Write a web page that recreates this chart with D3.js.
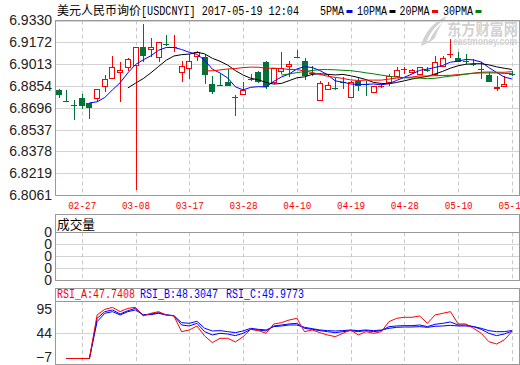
<!DOCTYPE html>
<html>
<head>
<meta charset="utf-8">
<script src="https://cdn.jsdelivr.net/npm/d3@7"></script>
<style>
  body { margin: 0; background: #fff; }
  svg { display: block; }
</style>
</head>
<body>
<div id="chart"></div>
<script>
// trading days shown (MM-DD, 2017)
const dates = ["02-22","02-23","02-24","02-27","02-28","03-01","03-02","03-03","03-06","03-07",
  "03-08","03-09","03-10","03-13","03-14","03-15","03-16","03-17","03-20","03-21",
  "03-22","03-23","03-24","03-27","03-28","03-29","03-30","03-31","04-05","04-06",
  "04-07","04-10","04-11","04-12","04-13","04-14","04-17","04-18","04-19","04-20",
  "04-21","04-24","04-25","04-26","04-27","04-28","05-02","05-03","05-04","05-05",
  "05-08","05-09","05-10","05-11","05-12","05-15","05-16","05-17","05-18","05-19"];

const open = [6.8824,6.8748,6.8716,6.8763,6.8729,6.8770,6.8855,6.8912,6.8953,6.8989,
  6.9007,6.9136,6.9124,6.9063,6.9160,6.9131,6.8958,6.8987,6.9070,6.9063,
  6.8868,6.8865,6.8885,6.8780,6.8792,6.8899,6.8958,6.9031,6.8880,6.8965,
  6.8997,6.9070,6.9038,6.8955,6.8751,6.8831,6.8846,6.8887,6.8777,6.8892,
  6.8870,6.8807,6.8848,6.8880,6.8929,6.8975,6.8953,6.8941,6.8975,6.8941,
  6.9002,6.9082,6.9055,6.9041,6.9016,6.8985,6.8933,6.8836,6.8855,6.8946];
const high = [6.8831,6.8824,6.8751,6.8792,6.8729,6.8831,6.8933,6.9075,6.9031,6.9055,
  6.9136,6.9306,6.9204,6.9177,6.9221,6.9226,6.9038,6.9087,6.9107,6.9087,
  6.8924,6.8941,6.8977,6.8787,6.8880,6.8941,6.8965,6.9038,6.8982,6.9104,
  6.9038,6.9116,6.9055,6.9002,6.8892,6.8880,6.8909,6.8916,6.8892,6.8916,
  6.8892,6.8855,6.8868,6.8941,6.8989,6.8989,6.8977,6.8989,6.8989,6.9070,
  6.9075,6.9197,6.9099,6.9087,6.9050,6.9031,6.8953,6.8924,6.8929,6.8965];
const low = [6.8770,6.8741,6.8607,6.8685,6.8612,6.8738,6.8807,6.8904,6.8738,6.8965,
  6.8100,6.9031,6.9063,6.9031,6.9148,6.9099,6.8885,6.8904,6.9038,6.8868,
  6.8794,6.8855,6.8855,6.8636,6.8792,6.8887,6.8875,6.8831,6.8868,6.8941,
  6.8916,6.9055,6.8897,6.8929,6.8751,6.8831,6.8826,6.8831,6.8777,6.8819,
  6.8782,6.8807,6.8838,6.8855,6.8916,6.8941,6.8941,6.8933,6.8953,6.8929,
  6.9002,6.9055,6.9026,6.9014,6.9002,6.8904,6.8885,6.8819,6.8855,6.8929];
const close = [6.8790,6.8746,6.8712,6.8709,6.8695,6.8831,6.8904,6.8989,6.8970,6.9050,
  6.9136,6.9075,6.9136,6.9172,6.9150,6.9136,6.9002,6.9033,6.9099,6.8936,
  6.8812,6.8860,6.8855,6.8775,6.8826,6.8904,6.8885,6.8843,6.8982,6.8982,
  6.9014,6.9065,6.8929,6.8950,6.8875,6.8860,6.8841,6.8882,6.8885,6.8855,
  6.8865,6.8855,6.8853,6.8929,6.8970,6.8980,6.8970,6.8989,6.8972,6.9031,
  6.9055,6.9087,6.9026,6.9036,6.9011,6.8980,6.8885,6.8850,6.8868,6.8941];

// no traded volume for a quoted rate
const volume = dates.map(() => 0);
const volTickLabels = ["0","0","0","0","0"];

const rsiA = [null,-10,-10,-10,-10,83.3,95.4,99.5,90.4,97.5,
  99.5,81.1,86.8,90.4,83.3,81.1,47.5,51.1,59.7,38.3,
  24.0,33.3,33.3,25.4,36.8,52.5,49.7,44.0,64.0,66.8,
  72.5,76.1,47.5,51.1,45.4,40.4,36.8,44.0,51.1,40.4,
  47.5,44.0,47.5,69.0,76.1,78.3,78.3,81.1,65.4,83.3,
  86.8,90.4,64.0,64.0,54.7,44.0,26.1,21.1,29.7,47.7];
const rsiB = [null,-10,-10,-10,-10,76.1,90.4,94.0,85.4,92.5,
  97.5,83.3,85.4,88.3,83.3,81.8,61.8,59.7,65.4,47.5,
  40.4,44.0,42.5,39.0,44.0,52.5,51.1,49.0,59.7,61.8,
  64.0,65.4,54.7,52.5,49.7,47.5,45.4,47.5,49.7,47.5,
  49.7,47.5,49.7,58.3,59.7,60.4,60.4,61.8,58.3,63.3,
  65.4,68.3,61.8,61.8,58.3,52.5,44.0,39.0,42.5,48.3];
const rsiC = [null,-10,-10,-10,-10,69.0,86.8,90.4,83.3,90.4,
  94.0,83.3,84.0,86.8,83.3,81.8,66.8,65.4,69.7,54.7,
  49.0,49.7,47.5,45.4,49.0,54.7,52.5,51.1,58.3,59.7,
  61.8,61.8,56.8,54.0,51.1,49.7,49.0,49.7,51.1,49.7,
  51.1,49.7,51.1,54.7,56.8,57.5,57.5,58.3,56.8,59.0,
  59.7,61.1,59.7,59.7,58.3,54.7,49.7,47.5,47.5,50.0];
const rsiLegend = ["RSI_A:47.7408", "RSI_B:48.3047", "RSI_C:49.9773"];

const priceTicks = [6.9330,6.9172,6.9013,6.8854,6.8696,6.8537,6.8378,6.8219,6.8061];
const rsiTicks = [95, 44, -7];
const dateTicks = ["02-27","03-08","03-17","03-28","04-10","04-19","04-28","05-10","05-19"];
const maPeriods = [5, 10, 20, 30];
const maNames = ["5PMA","10PMA","20PMA","30PMA"];
const maColors = ["#0000ff","#000000","#ff0000","#008000"];

const W = 520, H = 365, L = 55, R = 519;
const main = { top: 20.5, bottom: 195 };
const vol = { top: 214, head: 232.3, bottom: 280 };
const rsi = { top: 288, head: 301, bottom: 364 };
const RED = "#ff0000", GREEN = "#007339", BLUE = "#0000ff", FRAME = "#999", GRID = "#d4d4d4";
const numFont = "'Liberation Sans Narrow', 'Liberation Sans', Arial, sans-serif";
const monoFont = "'Liberation Mono', 'DejaVu Sans Mono', monospace";
const cjkFont = "'Noto Sans CJK SC', sans-serif";

const svg = d3.select("#chart").append("svg")
  .attr("width", W).attr("height", H);

const x = d3.scalePoint().domain(dates).range([58.7, 511.9]);
const y = d3.scaleLinear().domain([6.8061, 6.9330]).range([main.bottom, main.top]);
const yVolLab = d3.scalePoint().domain(d3.range(volTickLabels.length)).range([vol.bottom, vol.head]);
const yVol = d3.scaleLinear().domain([0, 1]).range([vol.bottom, vol.head]);
const yRsi = d3.scaleLinear().domain([-7, 95]).range([357.1, 309.5]);

// ---- watermark
const wm = svg.append("g").attr("fill", "#d2d2d2");
wm.append("path")
  .attr("d", "M421,46 C424,33 433,22 447,16 C441,24 437,31 435,38 C432,41 427,44 421,46 Z");
wm.append("path").attr("fill", "#fff")
  .attr("d", "M427,41 C430,33 435,27 441,22 L442,23 C437,28 432,34 429,41 Z");
wm.append("text").attr("x", 447).attr("y", 35)
  .attr("font-family", cjkFont).attr("font-size", 16).attr("font-weight", "bold")
  .attr("textLength", 71).attr("lengthAdjust", "spacingAndGlyphs")
  .text("东方财富网");
wm.append("text").attr("x", 453).attr("y", 45)
  .attr("font-family", "'Liberation Sans', Arial, sans-serif").attr("font-size", 10).attr("font-weight", "bold")
  .attr("textLength", 64).attr("lengthAdjust", "spacingAndGlyphs")
  .text("eastmoney.com");

// ---- grids
function gridLines(g) {
  g.select(".domain").remove();
  g.selectAll("line").attr("stroke", GRID).attr("shape-rendering", "crispEdges");
}
svg.append("g").attr("transform", `translate(${L},0)`)
  .call(d3.axisLeft(y).tickValues(priceTicks).tickSize(-(R - L)).tickFormat(""))
  .call(gridLines);
svg.append("g").attr("transform", `translate(${L},0)`)
  .call(d3.axisLeft(yVolLab).tickSize(-(R - L)).tickFormat(""))
  .call(gridLines);
svg.append("g").attr("transform", `translate(${L},0)`)
  .call(d3.axisLeft(yRsi).tickValues([44]).tickSize(-(R - L)).tickFormat(""))
  .call(gridLines);

[[main.top, main.bottom], [vol.head, vol.bottom], [rsi.head, rsi.bottom]].forEach(([t, b]) => {
  svg.append("g").selectAll("line").data(dateTicks).join("line")
    .attr("x1", d => Math.round(x(d)) + 0.5).attr("x2", d => Math.round(x(d)) + 0.5)
    .attr("y1", t).attr("y2", b)
    .attr("stroke", "#c8c8c8").attr("stroke-dasharray", "4,3");
});

// ---- frames
const frame = svg.append("g").attr("fill", "none").attr("stroke", FRAME).attr("shape-rendering", "crispEdges");
frame.append("rect").attr("x", L + 0.5).attr("y", main.top).attr("width", R - L).attr("height", main.bottom - main.top);
frame.append("rect").attr("x", L + 0.5).attr("y", vol.top + 0.5).attr("width", R - L).attr("height", vol.bottom - vol.top);
frame.append("line").attr("x1", L).attr("x2", R).attr("y1", vol.head).attr("y2", vol.head);
frame.append("rect").attr("x", L + 0.5).attr("y", rsi.top + 0.5).attr("width", R - L).attr("height", rsi.bottom - rsi.top);
frame.append("line").attr("x1", L).attr("x2", R).attr("y1", rsi.head).attr("y2", rsi.head);

// ---- axes labels
function styleAxis(g) {
  g.select(".domain").remove();
  g.selectAll("text").attr("font-family", numFont).attr("font-size", 14).attr("fill", "#222");
}
svg.append("g").attr("transform", `translate(${L},0)`)
  .call(d3.axisLeft(y).tickValues(priceTicks).tickSize(0).tickPadding(3).tickFormat(d3.format(".4f")))
  .call(styleAxis);
svg.append("g").attr("transform", `translate(${L},0)`)
  .call(d3.axisLeft(yVolLab).tickSize(0).tickPadding(3).tickFormat(i => volTickLabels[i]))
  .call(styleAxis);
svg.append("g").attr("transform", `translate(${L},0)`)
  .call(d3.axisLeft(yRsi).tickValues(rsiTicks).tickSize(0).tickPadding(3).tickFormat(d3.format("d")))
  .call(styleAxis);

svg.append("g").attr("transform", `translate(0,${main.bottom})`)
  .call(d3.axisBottom(x).tickValues(dateTicks).tickSize(0).tickPadding(6))
  .call(g => g.select(".domain").remove())
  .selectAll("text")
  .attr("font-family", monoFont).attr("font-size", 11).attr("fill", RED)
  .attr("textLength", 28).attr("lengthAdjust", "spacingAndGlyphs");

// ---- volume bars (all zero)
svg.append("g").selectAll("rect").data(dates).join("rect")
  .attr("x", d => x(d) - 2.5).attr("width", 5)
  .attr("y", (d, i) => yVol(volume[i]))
  .attr("height", (d, i) => yVol(0) - yVol(volume[i]))
  .attr("fill", GREEN);

// ---- candles
const idx = d3.range(dates.length);
const isUp = i => close[i] >= open[i];
const col = i => isUp(i) ? RED : GREEN;
const cx = i => Math.round(x(dates[i]));
const isDoji = i => Math.abs(y(open[i]) - y(close[i])) < 1.2;
const candles = svg.append("g").attr("shape-rendering", "crispEdges");

candles.selectAll("line").data(idx).join("line")
  .attr("x1", i => cx(i) + 0.5).attr("x2", i => cx(i) + 0.5)
  .attr("y1", i => y(high[i])).attr("y2", i => y(low[i]))
  .attr("stroke", col);

candles.selectAll("rect").data(idx).join("rect")
  .each(function (i) {
    const top = Math.round(y(Math.max(open[i], close[i])));
    const bot = Math.round(y(Math.min(open[i], close[i])));
    const r = d3.select(this);
    if (isDoji(i)) {
      r.attr("x", cx(i) - 3).attr("y", Math.round(y(close[i]))).attr("width", 6).attr("height", 1)
        .attr("fill", col(i));
    } else if (isUp(i)) {
      r.attr("x", cx(i) - 2.5).attr("y", top + 0.5).attr("width", 5).attr("height", Math.max(bot - top, 1))
        .attr("fill", "#fff").attr("stroke", RED);
    } else {
      r.attr("x", cx(i) - 3).attr("y", top).attr("width", 6).attr("height", Math.max(bot - top, 1))
        .attr("fill", GREEN);
    }
  });

// ---- moving averages of the close
const movingAvg = n => close.map((c, i) => i < n - 1 ? null : d3.mean(close.slice(i - n + 1, i + 1)));
const maLine = d3.line().defined(d => d != null).x((d, i) => x(dates[i])).y(d => y(d));
maPeriods.forEach((n, k) => {
  svg.append("path").datum(movingAvg(n))
    .attr("d", maLine).attr("fill", "none").attr("stroke", maColors[k]).attr("stroke-width", 1);
});

// ---- RSI
const rsiLine = d3.line().defined(d => d != null).x((d, i) => x(dates[i])).y(d => yRsi(d));
[[rsiC, BLUE], [rsiB, BLUE], [rsiA, RED]].forEach(([s, c]) => {
  svg.append("path").datum(s).attr("d", rsiLine)
    .attr("fill", "none").attr("stroke", c).attr("stroke-width", 1);
});

// ---- titles and legends
svg.append("text").attr("x", 57).attr("y", 15)
  .attr("font-family", cjkFont).attr("font-size", 12)
  .attr("textLength", 84).attr("lengthAdjust", "spacingAndGlyphs")
  .text("美元人民币询价");
svg.append("text").attr("x", 141).attr("y", 15)
  .attr("font-family", monoFont).attr("font-size", 12)
  .attr("textLength", 158).attr("lengthAdjust", "spacingAndGlyphs")
  .text("[USDCNYI] 2017-05-19 12:04");

const legX = [320, 357, 399.5, 443];
maNames.forEach((name, k) => {
  svg.append("text").attr("x", legX[k]).attr("y", 15)
    .attr("font-family", monoFont).attr("font-size", 12)
    .attr("textLength", name.length * 6).attr("lengthAdjust", "spacingAndGlyphs")
    .text(name);
  svg.append("rect").attr("x", legX[k] + name.length * 6 + 2.5).attr("y", 10)
    .attr("width", 6).attr("height", 3).attr("fill", maColors[k]);
});

svg.append("text").attr("x", 57).attr("y", 228.5)
  .attr("font-family", cjkFont).attr("font-size", 13)
  .attr("textLength", 38).attr("lengthAdjust", "spacingAndGlyphs")
  .text("成交量");

const rsiLegX = [57, 140, 226];
const rsiLegColors = [RED, BLUE, BLUE];
rsiLegend.forEach((t, k) => {
  svg.append("text").attr("x", rsiLegX[k]).attr("y", 298)
    .attr("font-family", monoFont).attr("font-size", 12).attr("fill", rsiLegColors[k])
    .attr("textLength", 78).attr("lengthAdjust", "spacingAndGlyphs")
    .text(t);
});
</script>
</body>
</html>
